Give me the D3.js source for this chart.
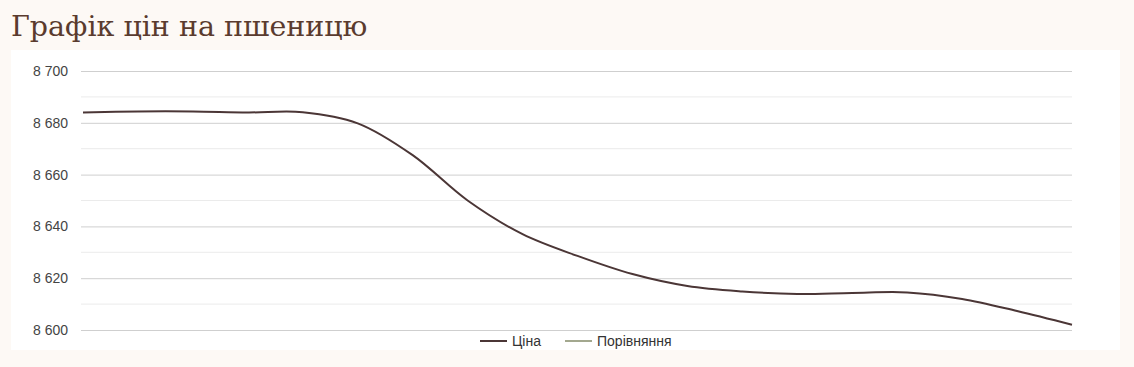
<!doctype html>
<html>
<head>
<meta charset="utf-8">
<title>Графік цін на пшеницю</title>
<script src="https://d3js.org/d3.v7.min.js"></script>
<style>
  body { margin: 0; background: #fdf9f5; }
  svg { display: block; }
</style>
</head>
<body>
<script>
// points along the x axis (no labels are shown on the chart)
var points = d3.range(19);
var price = [8684.0, 8684.4, 8684.4, 8684.0, 8684.1, 8679.8, 8667.5, 8650.0, 8637.0, 8628.6,
             8621.6, 8617.0, 8614.9, 8613.9, 8614.3, 8614.5, 8612.0, 8607.3, 8602.0];
var yTicks = [8600, 8620, 8640, 8660, 8680, 8700];
var legendItems = ["Ціна", "Порівняння"];
var legendColors = ["#4b3636", "#a3a88f"];

var W = 1134, H = 367;
var svg = d3.select("body").append("svg").attr("width", W).attr("height", H);

svg.append("rect").attr("width", W).attr("height", H).attr("fill", "#fdf9f5");
svg.append("rect").attr("x", 11).attr("y", 50).attr("width", 1109).attr("height", 300).attr("fill", "#ffffff");

svg.append("text")
    .attr("x", 11).attr("y", 36)
    .attr("font-family", "'DejaVu Serif', serif")
    .attr("font-size", 28.5)
    .attr("fill", "#5a3b2e")
    .text("Графік цін на пшеницю");

var x = d3.scalePoint().domain(points).range([83, 1072]);
var y = d3.scaleLinear().domain([8600, 8700]).range([330, 71]);

// minor grid lines
svg.append("g").selectAll("line")
    .data(d3.range(8610, 8700, 20))
    .enter().append("line")
    .attr("x1", 81).attr("x2", 1072)
    .attr("y1", function(d) { return y(d); })
    .attr("y2", function(d) { return y(d); })
    .attr("stroke", "#ebebeb").attr("stroke-width", 1);

var yAxis = d3.axisLeft(y).tickValues(yTicks)
    .tickSize(-991).tickPadding(13)
    .tickFormat(function(d) { return d3.format(",")(d).replace(",", " "); });

var ga = svg.append("g").attr("transform", "translate(81,0)").call(yAxis);
ga.select(".domain").remove();
ga.selectAll(".tick line").attr("stroke", "#cfcfcf");
ga.selectAll(".tick text")
    .attr("font-family", "'Liberation Sans', Arial, sans-serif")
    .attr("font-size", 14).attr("fill", "#444");

var line = d3.line()
    .x(function(d, i) { return x(points[i]); })
    .y(function(d) { return y(d); })
    .curve(d3.curveCatmullRom.alpha(0.5));

svg.append("path")
    .attr("d", line(price))
    .attr("fill", "none")
    .attr("stroke", legendColors[0])
    .attr("stroke-width", 2);

var legendX = [480, 565];
var lg = svg.append("g").selectAll("g")
    .data(legendItems)
    .enter().append("g")
    .attr("transform", function(d, i) { return "translate(" + legendX[i] + ",341)"; });
lg.append("line")
    .attr("x1", 0).attr("x2", 27)
    .attr("stroke", function(d, i) { return legendColors[i]; })
    .attr("stroke-width", 2);
lg.append("text")
    .attr("x", 32).attr("dy", "0.35em")
    .attr("font-family", "'Liberation Sans', Arial, sans-serif")
    .attr("font-size", 14).attr("fill", "#333")
    .text(function(d) { return d; });
</script>
</body>
</html>
